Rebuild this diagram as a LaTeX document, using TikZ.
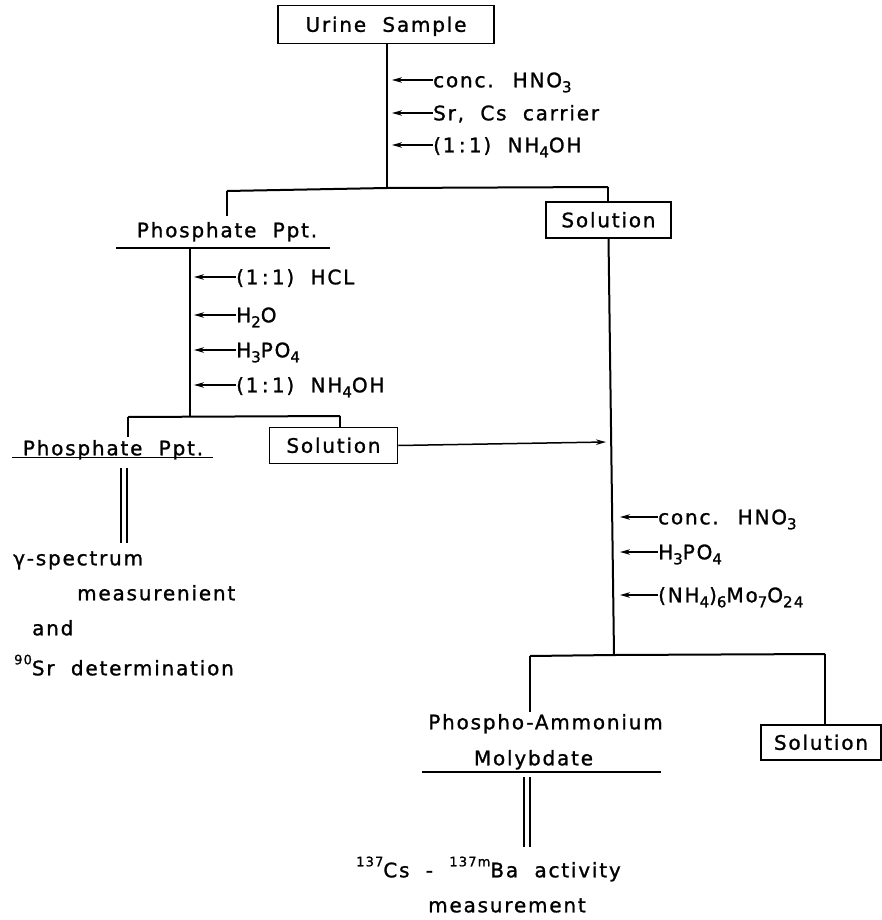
\documentclass[tikz,border=0pt]{standalone}
\usepackage{fontspec}
\setmainfont{DejaVu Sans}[LetterSpace=9, WordSpace=2, FakeBold=1.2]
\usetikzlibrary{arrows.meta}
\newcommand\chsub[1]{\raisebox{-0.25em}{\fontsize{15}{15}\selectfont #1}}
\newcommand\chsup[1]{\raisebox{0.55em}{\fontsize{13}{13}\selectfont #1}}
\begin{document}
\begin{tikzpicture}[x=1pt,y=-1pt,
  font=\fontsize{20}{24}\selectfont,
  txt/.style={inner sep=0pt, text height=14.6pt, text depth=0pt},
  boxnode/.style={txt, draw, line width=1.5pt, minimum height=36pt},
  reagent/.style={txt, anchor=west},
  flow/.style={line width=2pt},
  addarrow/.style={line width=1.5pt, -{Stealth[length=10pt,width=5.5pt]}},
  dbl/.style={line width=1.4pt},
]
\useasboundingbox (0,0) rectangle (882,920);

% ---- top
\node[boxnode, minimum width=216pt, minimum height=38pt] (urine) at (386,24.5) {Urine Sample};
\coordinate (j1) at (387,188);
\coordinate (l1) at (227,191);
\coordinate (r1) at (608,187);
\draw[flow] (urine.south -| j1) -- (j1);
\draw[flow] (l1) -- (j1) -- (r1);
\coordinate (tipA) at (392,0);
\node[reagent] (ra1) at (433,80) {conc. HNO\chsub{3}};
\node[reagent] (ra2) at (433,113) {Sr, Cs carrier};
\node[reagent] (ra3) at (433,145) {(1\,:\,1) NH\chsub{4}OH};
\foreach \n in {ra1,ra2,ra3} \draw[addarrow] (\n.west) -- (\n.west -| tipA);

% ---- first phosphate precipitate
\node[txt, inner ysep=7pt] (phos1) at (227,230) {Phosphate Ppt.};
\draw[flow] (l1) -- (l1 |- phos1.north);
\coordinate (u1a) at (116,248);
\coordinate (u1b) at (330,248);
\draw[flow] (u1a) -- (u1b);
\node[boxnode, minimum width=125pt] (sol1) at (608.5,220) {Solution};
\draw[flow] (r1) -- (r1 |- sol1.north);

\coordinate (v2t) at (190,248);
\coordinate (j2) at (190,417);
\draw[flow] (v2t) -- (j2);
\coordinate (tipB) at (194,0);
\node[reagent] (rb1) at (236,277) {(1\,:\,1) HCL};
\node[reagent] (rb2) at (236,315) {H\chsub{2}O};
\node[reagent] (rb3) at (236,350) {H\chsub{3}PO\chsub{4}};
\node[reagent] (rb4) at (236,385) {(1\,:\,1) NH\chsub{4}OH};
\foreach \n in {rb1,rb2,rb3,rb4} \draw[addarrow] (\n.west) -- (\n.west -| tipB);

% ---- second split
\coordinate (l2) at (128,417);
\coordinate (r2) at (340,416);
\draw[flow] (l2) -- (r2);
\node[txt, inner ysep=4pt] (phos2) at (113,448) {Phosphate Ppt.};
\draw[flow] (l2) -- (l2 |- phos2.north);
\coordinate (u2a) at (12,457.5);
\coordinate (u2b) at (213,457.5);
\draw[line width=1.5pt] (u2a) -- (u2b);
\node[boxnode, minimum width=128pt] (sol2) at (333.5,445.5) {Solution};
\draw[flow] (r2) -- (r2 |- sol2.north);

% right main column
\coordinate (j3) at (614,655);
\draw[flow] (sol1.south) -- (j3);
\coordinate (m1) at (606,442);
\draw[addarrow] (sol2.east) -- (m1);

% double lines and results, left
\coordinate (d1a) at (121,468); \coordinate (d1b) at (121,543);
\coordinate (d2a) at (127,468); \coordinate (d2b) at (127,543);
\draw[dbl] (d1a) -- (d1b);
\draw[dbl] (d2a) -- (d2b);
\node[txt, anchor=west] (gam) at (13,558) {γ-spectrum};
\node[txt, anchor=west] (meas1) at (77,593) {measurenient};
\node[txt, anchor=west] (and) at (32,628) {and};
\node[txt, anchor=west] (sr) at (14,668) {\chsup{90}Sr determination};

% right reagents
\coordinate (tipC) at (620,0);
\node[reagent] (rc1) at (658,517) {conc. HNO\chsub{3}};
\node[reagent] (rc2) at (658,552) {H\chsub{3}PO\chsub{4}};
\node[reagent] (rc3) at (658,595) {(NH\chsub{4})\chsub{6}Mo\chsub{7}O\chsub{24}};
\foreach \n in {rc1,rc2,rc3} \draw[addarrow] (\n.west) -- (\n.west -| tipC);

% third split
\coordinate (l3) at (530,656);
\coordinate (r3) at (825,654);
\draw[flow] (l3) -- (j3) -- (r3);
\node[txt, inner ysep=3pt] (pam) at (545.5,722) {Phospho-Ammonium};
\draw[flow] (l3) -- (l3 |- pam.north);
\node[txt] (moly) at (533.5,758) {Molybdate};
\coordinate (u3a) at (422,772);
\coordinate (u3b) at (661,772);
\draw[flow] (u3a) -- (u3b);
\node[boxnode, minimum width=120pt, minimum height=35pt] (sol3) at (821,742.5) {Solution};
\draw[flow] (r3) -- (r3 |- sol3.north);

\coordinate (d3a) at (524,777); \coordinate (d3b) at (524,847);
\coordinate (d4a) at (530,777); \coordinate (d4b) at (530,847);
\draw[dbl] (d3a) -- (d3b);
\draw[dbl] (d4a) -- (d4b);
\node[txt, anchor=west] (cs) at (356,870) {\chsup{137}Cs - \chsup{137m}Ba activity};
\node[txt] (meas2) at (507,905) {measurement};
\end{tikzpicture}
\end{document}
